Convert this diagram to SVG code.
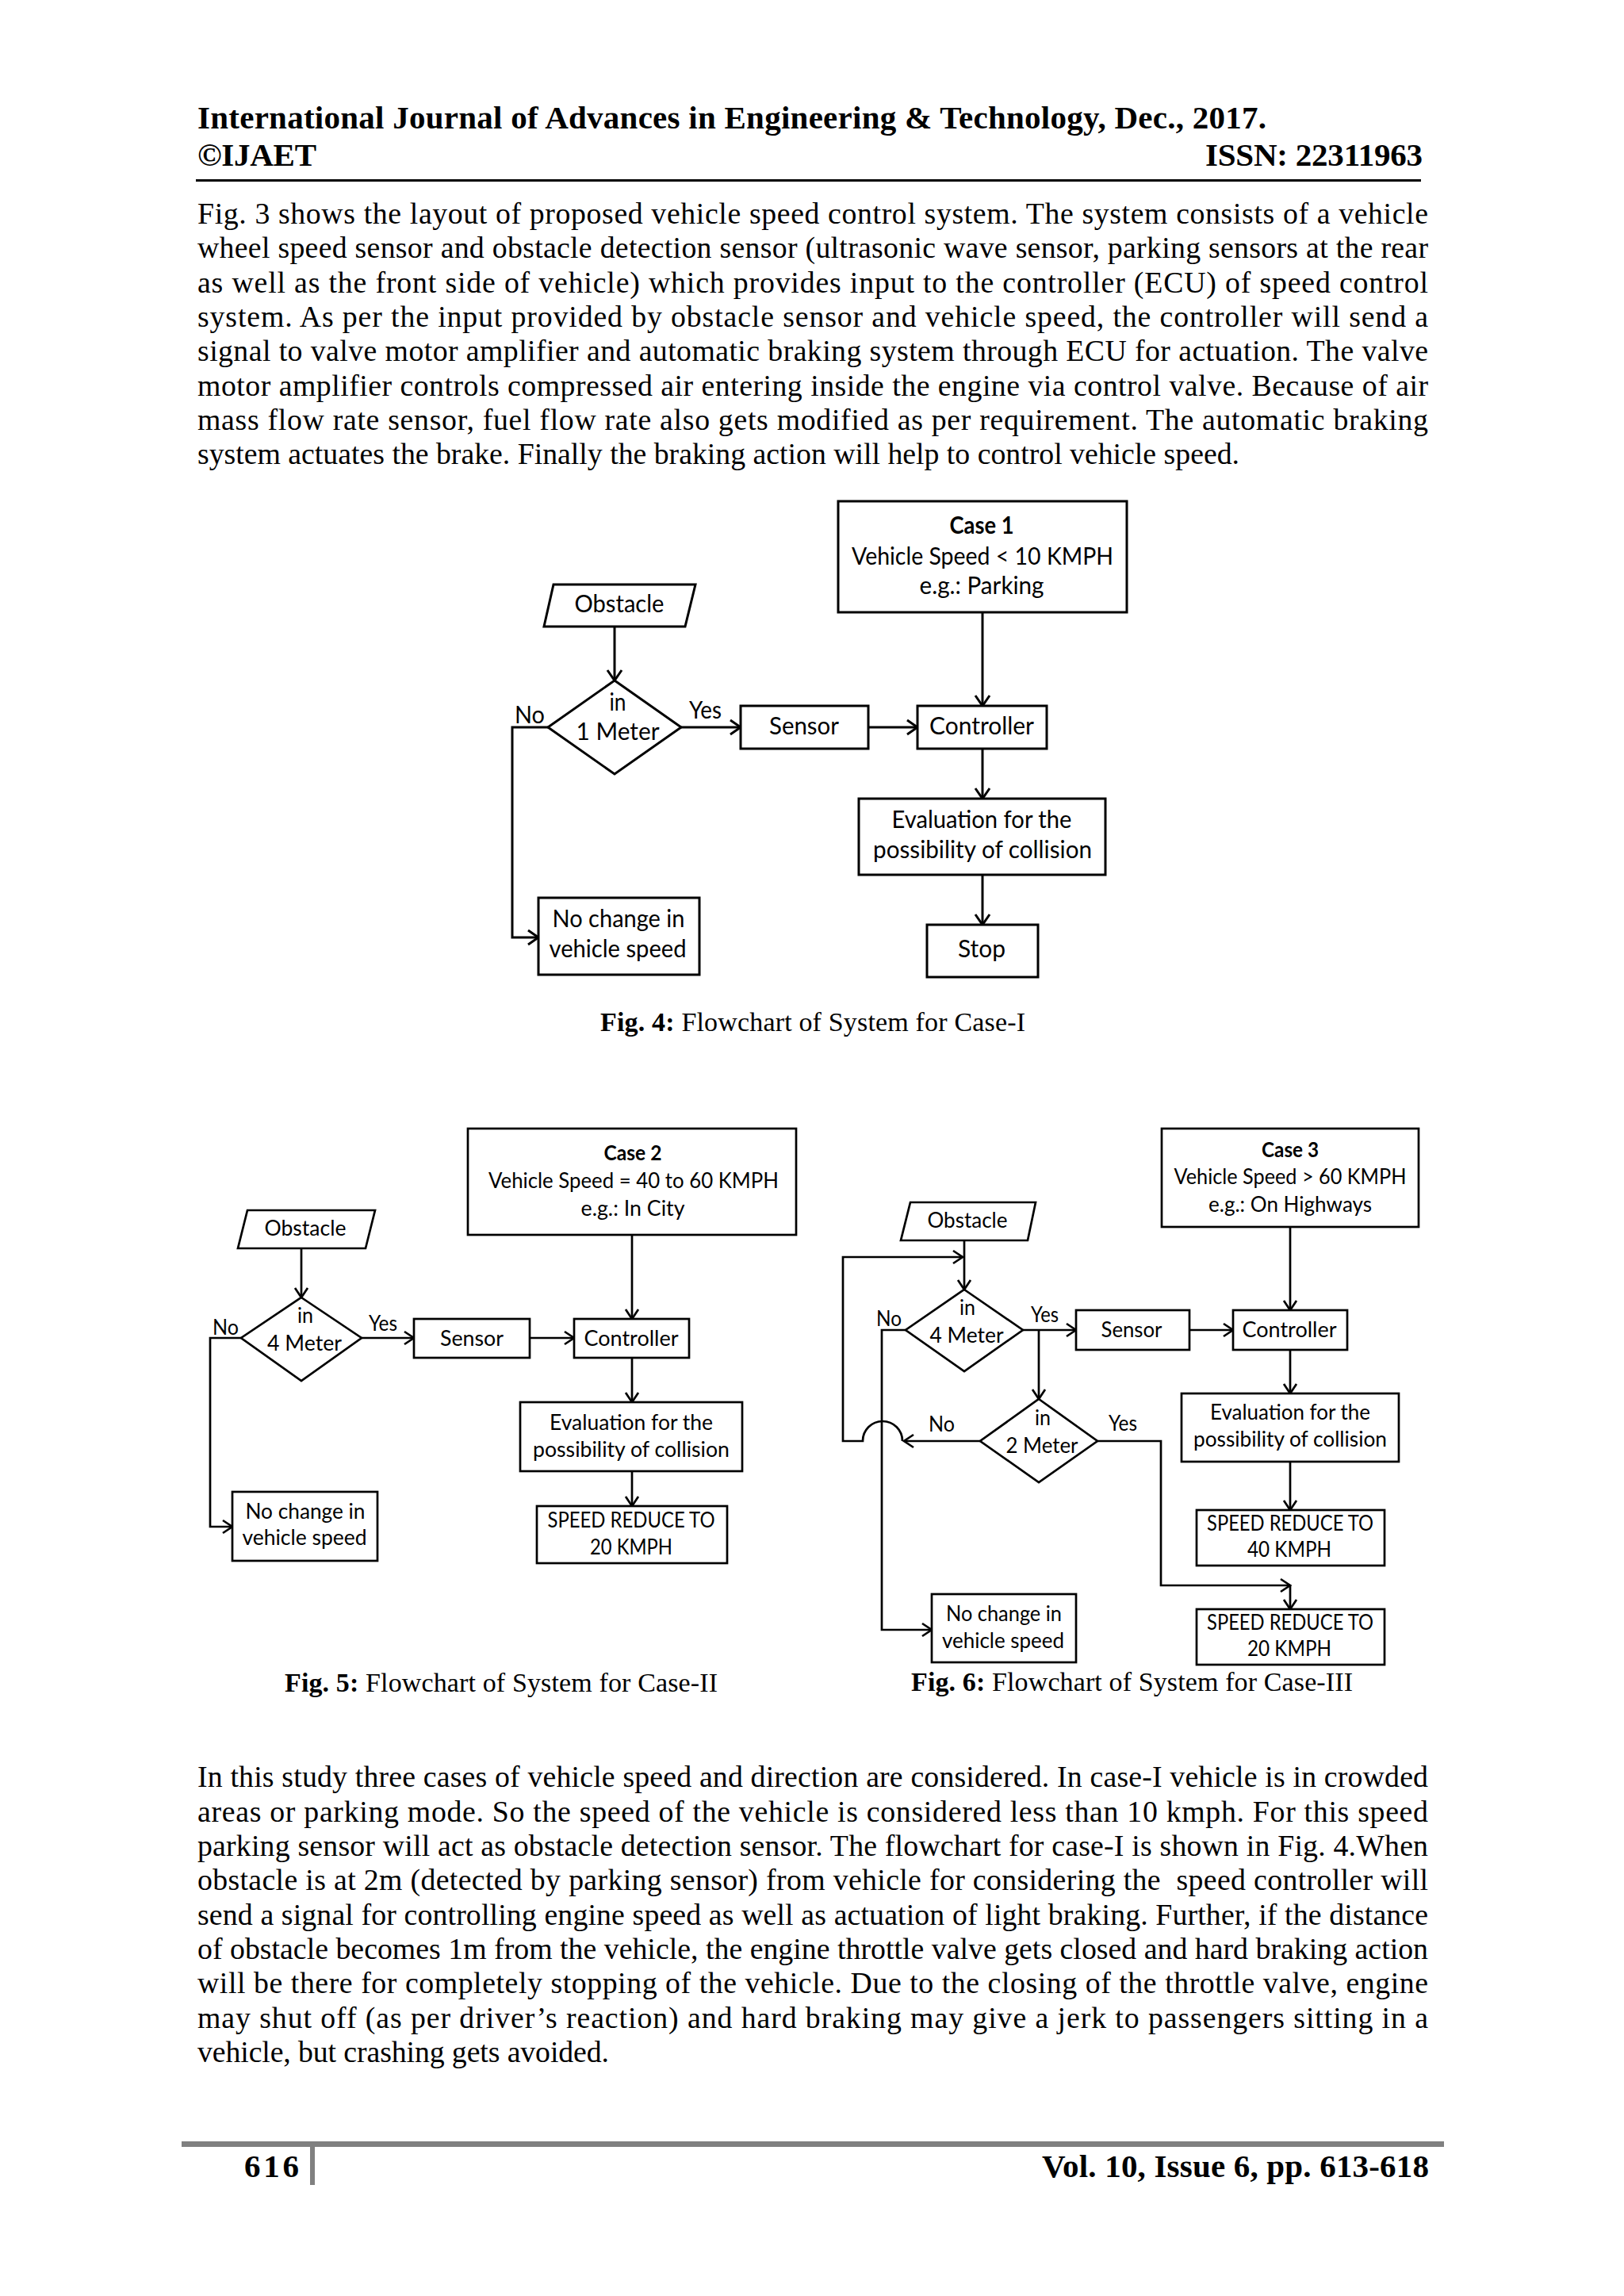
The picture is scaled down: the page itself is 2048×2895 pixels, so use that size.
<svg xmlns="http://www.w3.org/2000/svg" width="2048" height="2895" viewBox="0 0 2048 2895">
<style>
.hdr{font-family:'Liberation Serif','Times New Roman',serif;font-weight:bold;font-size:41px;fill:#000}
.body{font-family:'Liberation Serif','Times New Roman',serif;font-size:37.8px;fill:#000}
.cap{font-family:'Liberation Serif','Times New Roman',serif;font-size:34px;fill:#000}
.cap .b{font-weight:bold}
.t4{font-family:Lato,'Open Sans',sans-serif;font-size:30px;fill:#000}
.t5{font-family:Lato,'Open Sans',sans-serif;font-size:27px;fill:#000}
.m{text-anchor:middle}
.bold{font-weight:bold}
.n4{fill:#fff;stroke:#000;stroke-width:3}
.n5{fill:#fff;stroke:#000;stroke-width:2.7}
.c4{fill:none;stroke:#000;stroke-width:3}
.c5{fill:none;stroke:#000;stroke-width:2.7}
</style>
<defs>
<marker id="a4" markerUnits="userSpaceOnUse" viewBox="0 0 14 18" markerWidth="14" markerHeight="18" refX="13" refY="9" orient="auto" overflow="visible"><path d="M0,0 L13,9 L0,18" fill="none" stroke="#000" stroke-width="3"/></marker>
<marker id="a5" markerUnits="userSpaceOnUse" viewBox="0 0 13 16" markerWidth="13" markerHeight="16" refX="12" refY="8" orient="auto" overflow="visible"><path d="M0,0 L12,8 L0,16" fill="none" stroke="#000" stroke-width="2.7"/></marker>
</defs>
<rect x="0" y="0" width="2048" height="2895" fill="#fff"/>

<g id="header">
<text class="hdr" x="249" y="162" textLength="1348" lengthAdjust="spacing">International Journal of Advances in Engineering &amp; Technology, Dec., 2017.</text>
<text class="hdr" x="249" y="209" textLength="150" lengthAdjust="spacing">©IJAET</text>
<text class="hdr" x="1520" y="209" textLength="274" lengthAdjust="spacing">ISSN: 22311963</text>
<rect x="247" y="226" width="1545" height="3" fill="#000"/>
</g>

<g id="paragraph1">
<text class="body" x="249" y="282" textLength="1552" lengthAdjust="spacing">Fig. 3 shows the layout of proposed vehicle speed control system. The system consists of a vehicle</text>
<text class="body" x="249" y="325" textLength="1552" lengthAdjust="spacing">wheel speed sensor and obstacle detection sensor (ultrasonic wave sensor, parking sensors at the rear</text>
<text class="body" x="249" y="369" textLength="1552" lengthAdjust="spacing">as well as the front side of vehicle) which provides input to the controller (ECU) of speed control</text>
<text class="body" x="249" y="412" textLength="1552" lengthAdjust="spacing">system. As per the input provided by obstacle sensor and vehicle speed, the controller will send a</text>
<text class="body" x="249" y="455" textLength="1552" lengthAdjust="spacing">signal to valve motor amplifier and automatic braking system through ECU for actuation. The valve</text>
<text class="body" x="249" y="499" textLength="1552" lengthAdjust="spacing">motor amplifier controls compressed air entering inside the engine via control valve. Because of air</text>
<text class="body" x="249" y="542" textLength="1552" lengthAdjust="spacing">mass flow rate sensor, fuel flow rate also gets modified as per requirement. The automatic braking</text>
<text class="body" x="249" y="585" textLength="1314" lengthAdjust="spacing">system actuates the brake. Finally the braking action will help to control vehicle speed.</text>
</g>

<!-- Fig 4 -->
<g id="fig4-connectors">
<path class="c4" d="M775,790 V858" marker-end="url(#a4)"/>
<path class="c4" d="M859,917 H934" marker-end="url(#a4)"/>
<path class="c4" d="M691,917 H646 V1182 H679" marker-end="url(#a4)"/>
<path class="c4" d="M1095,917 H1157" marker-end="url(#a4)"/>
<path class="c4" d="M1239,772 V890" marker-end="url(#a4)"/>
<path class="c4" d="M1239,944 V1007" marker-end="url(#a4)"/>
<path class="c4" d="M1239,1103 V1166" marker-end="url(#a4)"/>
<text class="t4" x="649" y="912" textLength="38" lengthAdjust="spacingAndGlyphs">No</text>
<text class="t4" x="869" y="906" textLength="41" lengthAdjust="spacingAndGlyphs">Yes</text>
</g>
<g id="fig4-case1">
<rect class="n4" x="1057" y="632" width="364" height="140"/>
<text class="t4 m bold" x="1238" y="673" textLength="81" lengthAdjust="spacingAndGlyphs">Case 1</text>
<text class="t4 m" x="1239" y="712" textLength="330" lengthAdjust="spacingAndGlyphs">Vehicle Speed &lt; 10 KMPH</text>
<text class="t4 m" x="1238" y="749" textLength="157" lengthAdjust="spacingAndGlyphs">e.g.: Parking</text>
</g>
<g id="fig4-obstacle">
<polygon class="n4" points="698,737 877,737 864,790 686,790"/>
<text class="t4 m" x="781" y="772" textLength="113" lengthAdjust="spacingAndGlyphs">Obstacle</text>
</g>
<g id="fig4-decision">
<polygon class="n4" points="775,858 859,917 775,976 691,917"/>
<text class="t4 m" x="779" y="896" textLength="21" lengthAdjust="spacingAndGlyphs">in</text>
<text class="t4 m" x="779" y="933" textLength="105" lengthAdjust="spacingAndGlyphs">1 Meter</text>
</g>
<g id="fig4-sensor">
<rect class="n4" x="934" y="890" width="161" height="54"/>
<text class="t4 m" x="1014" y="926" textLength="88" lengthAdjust="spacingAndGlyphs">Sensor</text>
</g>
<g id="fig4-controller">
<rect class="n4" x="1157" y="890" width="163" height="54"/>
<text class="t4 m" x="1238" y="926" textLength="132" lengthAdjust="spacingAndGlyphs">Controller</text>
</g>
<g id="fig4-evaluation">
<rect class="n4" x="1083" y="1007" width="311" height="96"/>
<text class="t4 m" x="1238" y="1044" textLength="227" lengthAdjust="spacingAndGlyphs">Evaluation for the</text>
<text class="t4 m" x="1239" y="1082" textLength="276" lengthAdjust="spacingAndGlyphs">possibility of collision</text>
</g>
<g id="fig4-stop">
<rect class="n4" x="1169" y="1166" width="140" height="66"/>
<text class="t4 m" x="1238" y="1207" textLength="60" lengthAdjust="spacingAndGlyphs">Stop</text>
</g>
<g id="fig4-nochange">
<rect class="n4" x="679" y="1132" width="203" height="97"/>
<text class="t4 m" x="780" y="1169" textLength="167" lengthAdjust="spacingAndGlyphs">No change in</text>
<text class="t4 m" x="779" y="1207" textLength="173" lengthAdjust="spacingAndGlyphs">vehicle speed</text>
</g>
<text class="cap" x="757" y="1300" textLength="536" lengthAdjust="spacing"><tspan class="b">Fig. 4:</tspan> Flowchart of System for Case-I</text>

<!-- Fig 5 -->
<g id="fig5-connectors">
<path class="c5" d="M380,1574 V1636" marker-end="url(#a5)"/>
<path class="c5" d="M456,1687 H522" marker-end="url(#a5)"/>
<path class="c5" d="M304,1687 H265 V1925 H293" marker-end="url(#a5)"/>
<path class="c5" d="M668,1687 H724" marker-end="url(#a5)"/>
<path class="c5" d="M797,1557 V1663" marker-end="url(#a5)"/>
<path class="c5" d="M797,1712 V1768" marker-end="url(#a5)"/>
<path class="c5" d="M797,1855 V1899" marker-end="url(#a5)"/>
<text class="t5" x="268" y="1683" textLength="33" lengthAdjust="spacingAndGlyphs">No</text>
<text class="t5" x="465" y="1678" textLength="36" lengthAdjust="spacingAndGlyphs">Yes</text>
</g>
<g id="fig5-case2">
<rect class="n5" x="590" y="1423" width="414" height="134"/>
<text class="t5 m bold" x="798" y="1463" textLength="73" lengthAdjust="spacingAndGlyphs">Case 2</text>
<text class="t5 m" x="799" y="1498" textLength="366" lengthAdjust="spacingAndGlyphs">Vehicle Speed = 40 to 60 KMPH</text>
<text class="t5 m" x="798" y="1533" textLength="131" lengthAdjust="spacingAndGlyphs">e.g.: In City</text>
</g>
<g id="fig5-obstacle">
<polygon class="n5" points="312,1526 473,1526 461,1574 300,1574"/>
<text class="t5 m" x="385" y="1558" textLength="103" lengthAdjust="spacingAndGlyphs">Obstacle</text>
</g>
<g id="fig5-decision">
<polygon class="n5" points="380,1636 456,1687 380,1741 304,1687"/>
<text class="t5 m" x="385" y="1668" textLength="20" lengthAdjust="spacingAndGlyphs">in</text>
<text class="t5 m" x="384" y="1703" textLength="94" lengthAdjust="spacingAndGlyphs">4 Meter</text>
</g>
<g id="fig5-sensor">
<rect class="n5" x="522" y="1663" width="146" height="49"/>
<text class="t5 m" x="595" y="1697" textLength="80" lengthAdjust="spacingAndGlyphs">Sensor</text>
</g>
<g id="fig5-controller">
<rect class="n5" x="724" y="1663" width="145" height="49"/>
<text class="t5 m" x="796" y="1697" textLength="119" lengthAdjust="spacingAndGlyphs">Controller</text>
</g>
<g id="fig5-evaluation">
<rect class="n5" x="656" y="1768" width="280" height="87"/>
<text class="t5 m" x="796" y="1803" textLength="206" lengthAdjust="spacingAndGlyphs">Evaluation for the</text>
<text class="t5 m" x="796" y="1837" textLength="248" lengthAdjust="spacingAndGlyphs">possibility of collision</text>
</g>
<g id="fig5-speed20">
<rect class="n5" x="677" y="1899" width="240" height="72"/>
<text class="t5 m" x="796" y="1926" textLength="211" lengthAdjust="spacingAndGlyphs">SPEED REDUCE TO</text>
<text class="t5 m" x="796" y="1960" textLength="104" lengthAdjust="spacingAndGlyphs">20 KMPH</text>
</g>
<g id="fig5-nochange">
<rect class="n5" x="293" y="1881" width="183" height="87"/>
<text class="t5 m" x="385" y="1915" textLength="151" lengthAdjust="spacingAndGlyphs">No change in</text>
<text class="t5 m" x="384" y="1948" textLength="157" lengthAdjust="spacingAndGlyphs">vehicle speed</text>
</g>
<text class="cap" x="359" y="2133" textLength="546" lengthAdjust="spacing"><tspan class="b">Fig. 5:</tspan> Flowchart of System for Case-II</text>

<!-- Fig 6 -->
<g id="fig6-connectors">
<path class="c5" d="M1216,1564 V1626" marker-end="url(#a5)"/>
<path class="c5" d="M1236,1817 H1140" marker-end="url(#a5)"/>
<path class="c5" d="M1138,1817 A25,25 0 0 0 1088,1817 H1063 V1585 H1214" marker-end="url(#a5)"/>
<path class="c5" d="M1142,1677 H1112 V2055 H1175" marker-end="url(#a5)"/>
<path class="c5" d="M1290,1677 H1357" marker-end="url(#a5)"/>
<path class="c5" d="M1310,1677 V1764" marker-end="url(#a5)"/>
<path class="c5" d="M1500,1677 H1555" marker-end="url(#a5)"/>
<path class="c5" d="M1627,1547 V1652" marker-end="url(#a5)"/>
<path class="c5" d="M1627,1702 V1757" marker-end="url(#a5)"/>
<path class="c5" d="M1627,1843 V1904" marker-end="url(#a5)"/>
<path class="c5" d="M1384,1817 H1464 V1999 H1627" marker-end="url(#a5)"/>
<path class="c5" d="M1627,1999 V2029" marker-end="url(#a5)"/>
<text class="t5" x="1105" y="1672" textLength="32" lengthAdjust="spacingAndGlyphs">No</text>
<text class="t5" x="1300" y="1667" textLength="35" lengthAdjust="spacingAndGlyphs">Yes</text>
<text class="t5" x="1171" y="1805" textLength="33" lengthAdjust="spacingAndGlyphs">No</text>
<text class="t5" x="1398" y="1804" textLength="36" lengthAdjust="spacingAndGlyphs">Yes</text>
</g>
<g id="fig6-case3">
<rect class="n5" x="1465" y="1423" width="324" height="124"/>
<text class="t5 m bold" x="1627" y="1459" textLength="72" lengthAdjust="spacingAndGlyphs">Case 3</text>
<text class="t5 m" x="1627" y="1493" textLength="293" lengthAdjust="spacingAndGlyphs">Vehicle Speed &gt; 60 KMPH</text>
<text class="t5 m" x="1627" y="1528" textLength="206" lengthAdjust="spacingAndGlyphs">e.g.: On Highways</text>
</g>
<g id="fig6-obstacle">
<polygon class="n5" points="1148,1516 1306,1516 1296,1564 1136,1564"/>
<text class="t5 m" x="1220" y="1548" textLength="101" lengthAdjust="spacingAndGlyphs">Obstacle</text>
</g>
<g id="fig6-decision4m">
<polygon class="n5" points="1216,1626 1290,1677 1216,1729 1142,1677"/>
<text class="t5 m" x="1220" y="1658" textLength="20" lengthAdjust="spacingAndGlyphs">in</text>
<text class="t5 m" x="1219" y="1693" textLength="93" lengthAdjust="spacingAndGlyphs">4 Meter</text>
</g>
<g id="fig6-sensor">
<rect class="n5" x="1357" y="1652" width="143" height="50"/>
<text class="t5 m" x="1427" y="1686" textLength="77" lengthAdjust="spacingAndGlyphs">Sensor</text>
</g>
<g id="fig6-controller">
<rect class="n5" x="1555" y="1652" width="144" height="50"/>
<text class="t5 m" x="1626" y="1686" textLength="119" lengthAdjust="spacingAndGlyphs">Controller</text>
</g>
<g id="fig6-evaluation">
<rect class="n5" x="1490" y="1757" width="274" height="86"/>
<text class="t5 m" x="1627" y="1790" textLength="202" lengthAdjust="spacingAndGlyphs">Evaluation for the</text>
<text class="t5 m" x="1627" y="1824" textLength="244" lengthAdjust="spacingAndGlyphs">possibility of collision</text>
</g>
<g id="fig6-decision2m">
<polygon class="n5" points="1310,1764 1384,1817 1310,1869 1236,1817"/>
<text class="t5 m" x="1315" y="1797" textLength="20" lengthAdjust="spacingAndGlyphs">in</text>
<text class="t5 m" x="1314" y="1832" textLength="91" lengthAdjust="spacingAndGlyphs">2 Meter</text>
</g>
<g id="fig6-speed40">
<rect class="n5" x="1509" y="1904" width="237" height="70"/>
<text class="t5 m" x="1627" y="1930" textLength="210" lengthAdjust="spacingAndGlyphs">SPEED REDUCE TO</text>
<text class="t5 m" x="1626" y="1963" textLength="106" lengthAdjust="spacingAndGlyphs">40 KMPH</text>
</g>
<g id="fig6-speed20">
<rect class="n5" x="1509" y="2029" width="237" height="70"/>
<text class="t5 m" x="1627" y="2055" textLength="210" lengthAdjust="spacingAndGlyphs">SPEED REDUCE TO</text>
<text class="t5 m" x="1626" y="2088" textLength="106" lengthAdjust="spacingAndGlyphs">20 KMPH</text>
</g>
<g id="fig6-nochange">
<rect class="n5" x="1175" y="2010" width="182" height="86"/>
<text class="t5 m" x="1266" y="2044" textLength="146" lengthAdjust="spacingAndGlyphs">No change in</text>
<text class="t5 m" x="1265" y="2078" textLength="154" lengthAdjust="spacingAndGlyphs">vehicle speed</text>
</g>
<text class="cap" x="1149" y="2132" textLength="557" lengthAdjust="spacing"><tspan class="b">Fig. 6:</tspan> Flowchart of System for Case-III</text>

<g id="paragraph2">
<text class="body" x="249" y="2253" textLength="1552" lengthAdjust="spacing">In this study three cases of vehicle speed and direction are considered. In case-I vehicle is in crowded</text>
<text class="body" x="249" y="2297" textLength="1552" lengthAdjust="spacing">areas or parking mode. So the speed of the vehicle is considered less than 10 kmph. For this speed</text>
<text class="body" x="249" y="2340" textLength="1552" lengthAdjust="spacing">parking sensor will act as obstacle detection sensor. The flowchart for case-I is shown in Fig. 4.When</text>
<text class="body" x="249" y="2383" textLength="1552" lengthAdjust="spacing" style="white-space:pre">obstacle is at 2m (detected by parking sensor) from vehicle for considering the  speed controller will</text>
<text class="body" x="249" y="2427" textLength="1552" lengthAdjust="spacing">send a signal for controlling engine speed as well as actuation of light braking. Further, if the distance</text>
<text class="body" x="249" y="2470" textLength="1552" lengthAdjust="spacing">of obstacle becomes 1m from the vehicle, the engine throttle valve gets closed and hard braking action</text>
<text class="body" x="249" y="2513" textLength="1552" lengthAdjust="spacing">will be there for completely stopping of the vehicle. Due to the closing of the throttle valve, engine</text>
<text class="body" x="249" y="2557" textLength="1552" lengthAdjust="spacing">may shut off (as per driver’s reaction) and hard braking may give a jerk to passengers sitting in a</text>
<text class="body" x="249" y="2600" textLength="519" lengthAdjust="spacing">vehicle, but crashing gets avoided.</text>
</g>

<g id="footer">
<rect x="229" y="2700" width="1592" height="7" fill="#808080"/>
<rect x="391" y="2707" width="6" height="48" fill="#808080"/>
<text class="hdr" x="308" y="2745" textLength="69" lengthAdjust="spacing">616</text>
<text class="hdr" x="1314" y="2745" textLength="488" lengthAdjust="spacing">Vol. 10, Issue 6, pp. 613-618</text>
</g>
</svg>
